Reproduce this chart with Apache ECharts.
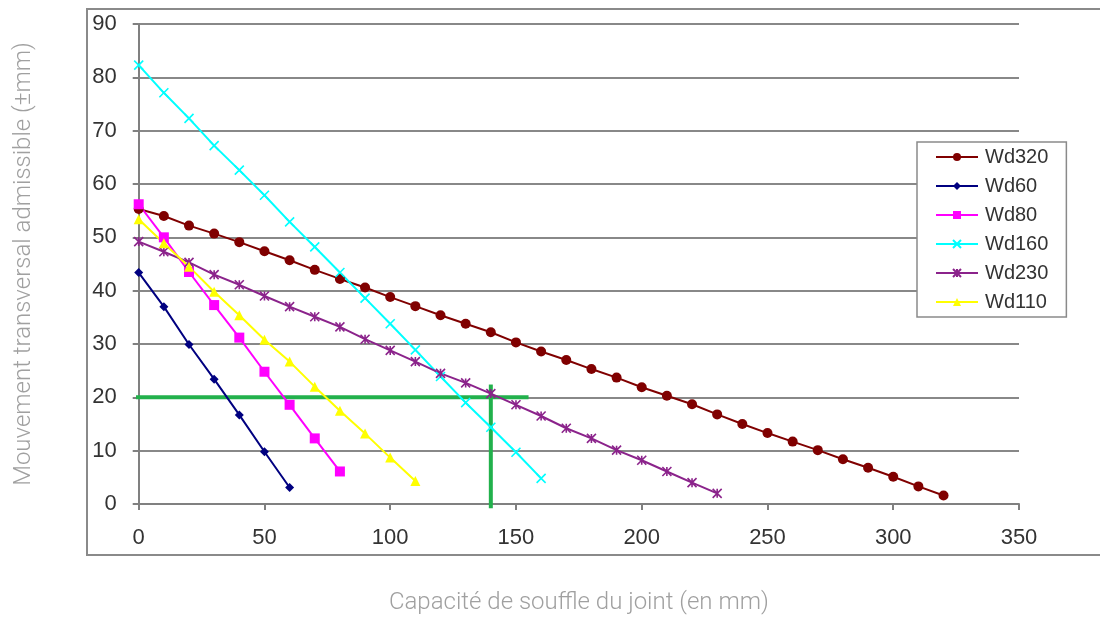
<!DOCTYPE html>
<html>
<head>
<meta charset="utf-8">
<script src="https://cdn.jsdelivr.net/npm/echarts@6/dist/echarts.min.js"></script>
<style>html,body{margin:0;padding:0;background:#fff}#c{width:1100px;height:636px}</style>
</head>
<body>
<div id="c"></div>
<script>
var xs = [0,10,20,30,40,50,60,70,80,90,100,110,120,130,140,150,160,170,180,190,200,210,220,230,240,250,260,270,280,290,300,310,320];
var wd320 = [55.3,54.0,52.2,50.7,49.1,47.4,45.7,43.9,42.2,40.6,38.8,37.1,35.4,33.8,32.2,30.3,28.6,27.0,25.3,23.7,21.9,20.3,18.7,16.8,15.0,13.3,11.7,10.1,8.4,6.8,5.1,3.3,1.6];
var wd60 = [43.4,37.0,29.9,23.4,16.7,9.8,3.1];
var wd80 = [56.2,50.0,43.5,37.3,31.2,24.8,18.6,12.3,6.1];
var wd160 = [82.3,77.1,72.3,67.2,62.6,57.9,52.9,48.2,43.4,38.6,33.8,28.9,23.9,19.0,14.4,9.7,4.8];
var wd230 = [49.2,47.3,45.3,43.0,41.1,39.0,37.0,35.1,33.2,30.9,28.8,26.7,24.5,22.7,20.7,18.6,16.5,14.2,12.3,10.1,8.2,6.1,4.0,2.0];
var wd110 = [53.4,48.9,44.5,39.8,35.4,30.8,26.7,22.0,17.5,13.2,8.7,4.3];
var greenH = [[-2,20],[155,20]];
var greenV = [[140,-0.8],[140,22.4]];
var names = ['Wd320','Wd60','Wd80','Wd160','Wd230','Wd110'];
var yTicks = [0,10,20,30,40,50,60,70,80,90];
var xTicks = [0,50,100,150,200,250,300,350];

function pairs(vals){ return vals.map(function(v,i){ return [xs[i], v]; }); }

var crossPath = 'path://M0,0L10,10M10,0L0,10';
var starPath = 'path://M0,0L10,10M10,0L0,10M5,0L5,10';

function mk(name, vals, color, symbol, size, extra){
  var s = {
    name: name, type: 'line', data: pairs(vals),
    symbol: symbol, symbolSize: size, showSymbol: true,
    lineStyle: {color: color, width: 2},
    itemStyle: {color: color},
    emphasis: {disabled: true},
    animation: false
  };
  if (extra) { s.itemStyle = {color: 'rgba(0,0,0,0)', borderColor: color, borderWidth: 1.6}; }
  return s;
}

var chart = echarts.init(document.getElementById('c'), null, {renderer: 'canvas'});
var option = {
  animation: false,
  backgroundColor: '#fff',
  grid: {left: 138.7, right: 81, top: 24, bottom: 132, containLabel: false},
  graphic: [{
    type: 'rect', shape: {x: 87, y: 9, width: 1030, height: 546},
    style: {fill: 'none', stroke: '#8a8a8a', lineWidth: 2}, silent: true, z: -10
  }],
  legend: {
    data: names,
    orient: 'vertical',
    left: 917, top: 142,
    width: 149,
    padding: [5, 18, 5, 18],
    itemWidth: 42, itemHeight: 10, itemGap: 9,
    borderColor: '#8a8a8a', borderWidth: 1.5,
    backgroundColor: '#fff',
    textStyle: {fontFamily: 'Liberation Sans', fontSize: 20, color: '#333', lineHeight: 20, padding: [0,0,0,2]},
    selectedMode: false
  },
  xAxis: {
    type: 'value', min: 0, max: 350, interval: 50,
    name: 'Capacité de souffle du joint (en mm)',
    nameLocation: 'middle', nameGap: 87,
    nameTextStyle: {fontFamily: 'Roboto', fontWeight: 300, fontSize: 24, color: '#a0a0a0'},
    axisLine: {show: true, lineStyle: {color: '#808080', width: 2}},
    axisTick: {show: true, length: 6, lineStyle: {color: '#808080', width: 2}},
    axisLabel: {fontFamily: 'Liberation Sans', fontSize: 22, color: '#333', margin: 23},
    splitLine: {show: false}
  },
  yAxis: {
    type: 'value', min: 0, max: 90, interval: 10,
    name: 'Mouvement transversal admissible (±mm)',
    nameLocation: 'middle', nameGap: 103,
    nameTextStyle: {fontFamily: 'Roboto', fontWeight: 300, fontSize: 24, color: '#a0a0a0'},
    axisLine: {show: true, onZero: false, lineStyle: {color: '#808080', width: 2}},
    axisTick: {show: true, length: 6, lineStyle: {color: '#808080', width: 2}},
    axisLabel: {fontFamily: 'Liberation Sans', fontSize: 22, color: '#333', margin: 22},
    splitLine: {show: true, lineStyle: {color: '#888', width: 2}}
  },
  series: [
    {name: 'hline', type: 'line', data: greenH, symbol: 'none', clip: false, lineStyle: {color: '#22b14c', width: 4}, z: 1, animation: false, emphasis:{disabled:true}},
    {name: 'vline', type: 'line', data: greenV, symbol: 'none', clip: false, lineStyle: {color: '#22b14c', width: 4}, z: 1, animation: false, emphasis:{disabled:true}},
    mk('Wd320', wd320, '#800000', 'circle', 10),
    mk('Wd60', wd60, '#000080', 'diamond', 9),
    mk('Wd80', wd80, '#ff00ff', 'rect', 10),
    mk('Wd160', wd160, '#00ffff', crossPath, 9, true),
    mk('Wd230', wd230, '#8b238b', starPath, 9, true),
    mk('Wd110', wd110, '#ffff00', 'triangle', 10)
  ]
};
chart.setOption(option);
</script>
</body>
</html>
